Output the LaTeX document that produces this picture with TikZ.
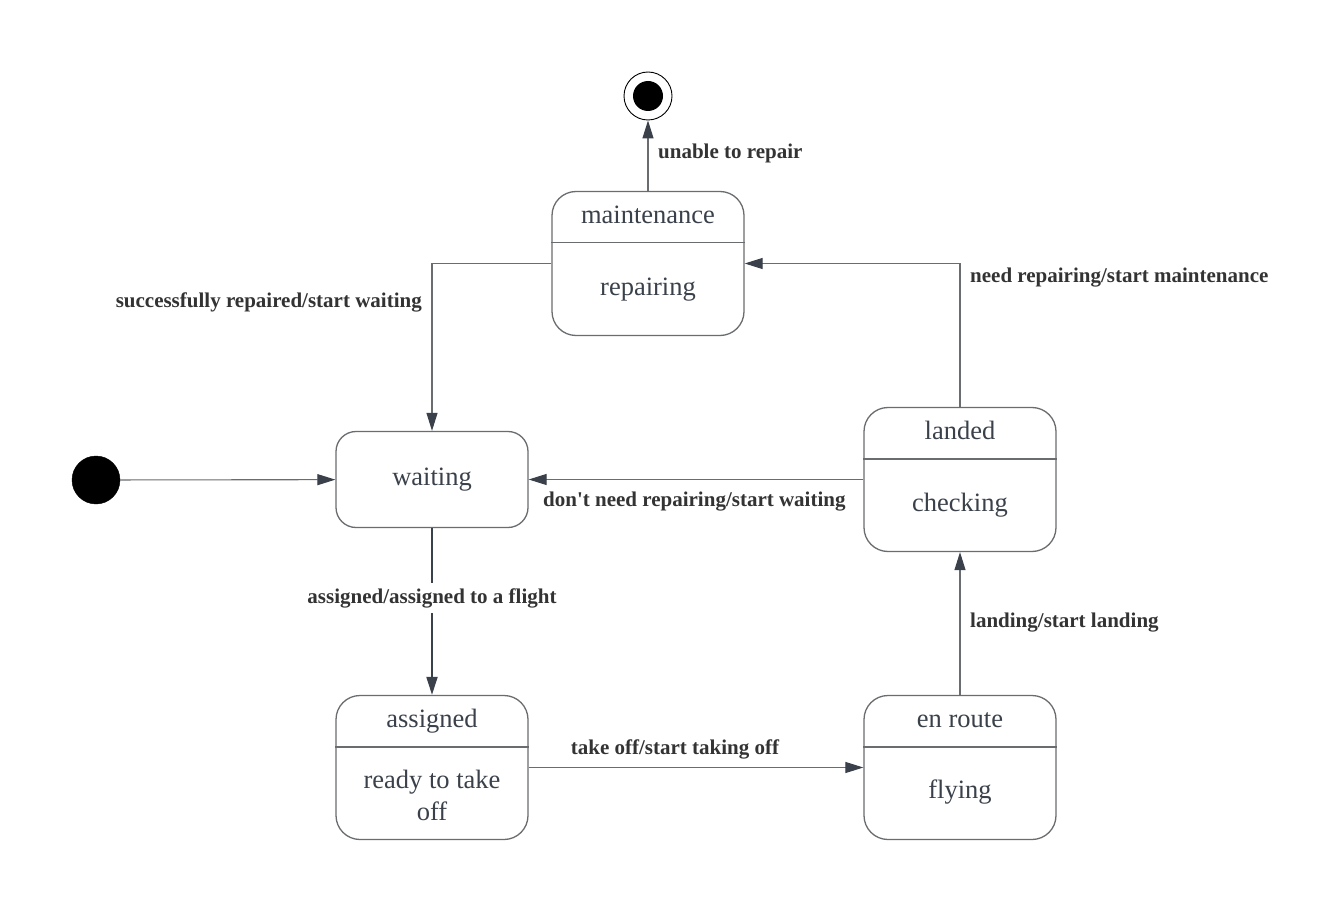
\documentclass[tikz,border=0pt]{standalone}
\usepackage{fontspec}
\setmainfont{Liberation Serif}
\newfontfamily\lblfont{Liberation Serif}[Ligatures=TeXOff]
\usetikzlibrary{arrows.meta}
\definecolor{bordc}{HTML}{6A6D70}
\definecolor{txtc}{HTML}{3A414A}
\definecolor{lblc}{HTML}{333333}
\definecolor{arrc}{HTML}{3A414A}
\tikzset{
  statebox/.style={draw=bordc, line width=1.3pt, rounded corners=24pt, minimum width=192pt, minimum height=144pt, inner sep=0pt, fill=white},
  smallbox/.style={draw=bordc, line width=1.3pt, rounded corners=20pt, minimum width=192pt, minimum height=96pt, inner sep=0pt, fill=white},
  divider/.style={draw=bordc, line width=1.3pt},
  stt/.style={font=\fontsize{26.5}{32}\selectfont, text=txtc, inner sep=0pt, anchor=base, align=center},
  lbl/.style={font=\lblfont\fontsize{21}{25}\selectfont\bfseries, text=lblc, inner sep=0pt, anchor=base},
  edge/.style={draw=bordc, line width=1.1pt, -{Triangle[length=18pt,width=11pt,fill=arrc,color=arrc]}},
  thickedge/.style={draw=arrc, line width=2pt, -{Triangle[length=18pt,width=11pt,fill=arrc,color=arrc]}},
}
\begin{document}
\begin{tikzpicture}[x=1pt,y=-1pt]
\useasboundingbox[fill=white] (0,0) rectangle (1326,912);
% pseudo-states
\node[circle, fill=black, draw=black, minimum size=48pt, inner sep=0pt] (init) at (96,480) {};
\node[circle, draw=black, line width=0.9pt, fill=white, minimum size=48pt, inner sep=0pt] (final) at (648,96) {};
\node[circle, fill=black, minimum size=30pt, inner sep=0pt] (finalin) at (648,96) {};
% states
\node[statebox] (maint) at (648,263.5) {};
\draw[divider] ([yshift=-52pt]maint.north west) -- ([yshift=-52pt]maint.north east);
\node[stt] (maintt) at (648,224) {maintenance};
\node[stt] (maintb) at (648,295) {repairing};

\node[smallbox] (wait) at (432,479.5) {};
\node[stt] (waitt) at (432,485) {waiting};

\node[statebox] (landed) at (960,479.5) {};
\draw[divider] ([yshift=-52pt]landed.north west) -- ([yshift=-52pt]landed.north east);
\node[stt] (landedt) at (960,439) {landed};
\node[stt] (landedb) at (960,511) {checking};

\node[statebox] (assigned) at (432,767.5) {};
\draw[divider] ([yshift=-52pt]assigned.north west) -- ([yshift=-52pt]assigned.north east);
\node[stt] (assignedt) at (432,727) {assigned};
\node[stt, anchor=north] (assignedb) at (432,770) {ready to take\\off};

\node[statebox] (enroute) at (960,767.5) {};
\draw[divider] ([yshift=-52pt]enroute.north west) -- ([yshift=-52pt]enroute.north east);
\node[stt] (enroutet) at (960,727) {en route};
\node[stt] (enrouteb) at (960,798) {flying};

% transitions
\draw[edge] (init) -- (wait);
\draw[edge] (maint) -- (final);
\draw[edge] (maint.west) -| (wait.north);
\draw[edge] (landed.north) |- (maint.east);
\draw[edge] (landed) -- (wait);
\draw[edge] (enroute) -- (landed);
\draw[edge] (assigned) -- (enroute);
\draw[thickedge] (wait) -- (assigned);

% labels
\node[lbl, anchor=base west] (l1) at (658,159) {unable to repair};
\node[lbl, anchor=base east] (l2) at (422,307) {successfully repaired/start waiting};
\node[lbl, anchor=base west] (l3) at (970,283) {need repairing/start maintenance};
\node[lbl, anchor=base west] (l4) at (543,506) {don't need repairing/start waiting};
\node[lbl, fill=white, inner ysep=5pt, inner xsep=2pt] (l5) at (432,603) {assigned/assigned to a flight};
\node[lbl] (l6) at (675,754) {take off/start taking off};
\node[lbl, anchor=base west] (l7) at (970,627) {landing/start landing};
\end{tikzpicture}
\end{document}
